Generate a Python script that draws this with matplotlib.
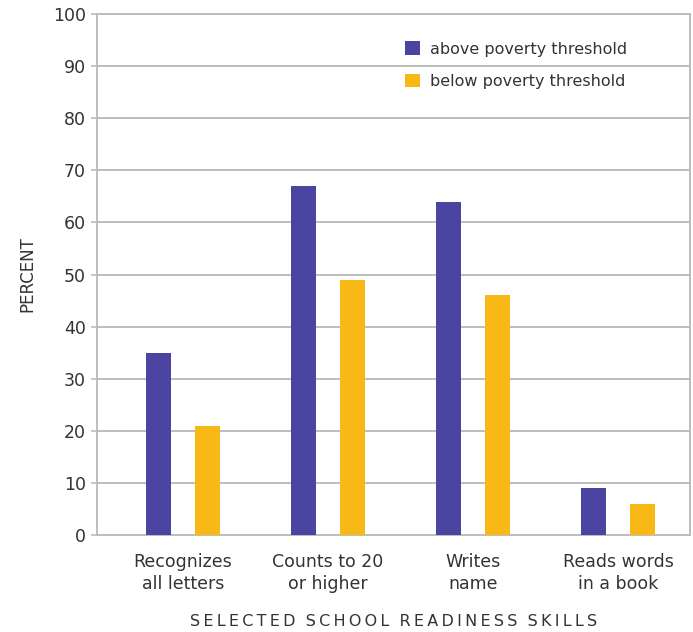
import matplotlib
matplotlib.use("Agg")
import matplotlib.pyplot as plt
import numpy as np

categories = ["Recognizes\nall letters", "Counts to 20\nor higher", "Writes\nname", "Reads words\nin a book"]
above = [35, 67, 64, 9]
below = [21, 49, 46, 6]
series_names = ["above poverty threshold", "below poverty threshold"]
yticks = [0, 10, 20, 30, 40, 50, 60, 70, 80, 90, 100]
xlabel = "SELECTED SCHOOL READINESS SKILLS"
ylabel = "PERCENT"

blue = "#4B44A0"
yellow = "#F8B816"
grid_c = "#BDBDBD"
text_c = "#333333"

fig = plt.figure(figsize=(6.93, 6.32), dpi=100)
ax = fig.add_axes([97/693, 1-535/632, (690-97)/693, (535-14)/632])

x = np.arange(len(categories))
w = 0.17
off = 0.17
ax.bar(x - off, above, width=w, color=blue, zorder=3, label=series_names[0])
ax.bar(x + off, below, width=w, color=yellow, zorder=3, label=series_names[1])

ax.set_xlim(-0.593, 3.497)
ax.set_ylim(0, 100)
ax.set_yticks(yticks)
ax.set_yticklabels([str(t) for t in yticks], fontsize=12.5, color=text_c)
ax.yaxis.grid(True, color=grid_c, linewidth=1.4, zorder=0)
ax.set_axisbelow(True)
ax.set_xticks(x)
ax.set_xticklabels(categories, fontsize=12.5, color=text_c, linespacing=1.25)
ax.tick_params(axis="x", length=0, pad=13)
ax.tick_params(axis="y", length=4, width=1.2, color=grid_c, pad=4)
for s in ax.spines.values():
    s.set_color(grid_c)
    s.set_linewidth(1.4)

ax.set_ylabel(ylabel, fontsize=12, color=text_c, family="Liberation Sans Narrow", labelpad=12)
spaced = "\u2009".join(xlabel).replace("\u2009 \u2009", "  ")
ax.set_xlabel(spaced, fontsize=11.5, color=text_c, va="top")
ax.xaxis.set_label_coords(0.5, (535 - 614) / 521)

leg = ax.legend(loc="upper left", bbox_to_anchor=(0.495, 0.975), frameon=False, fontsize=11.5,
                handlelength=0.95, handleheight=0.95, labelspacing=1.05, handletextpad=0.6)
for t in leg.get_texts():
    t.set_color(text_c)

fig.savefig("out.png", dpi=100)
